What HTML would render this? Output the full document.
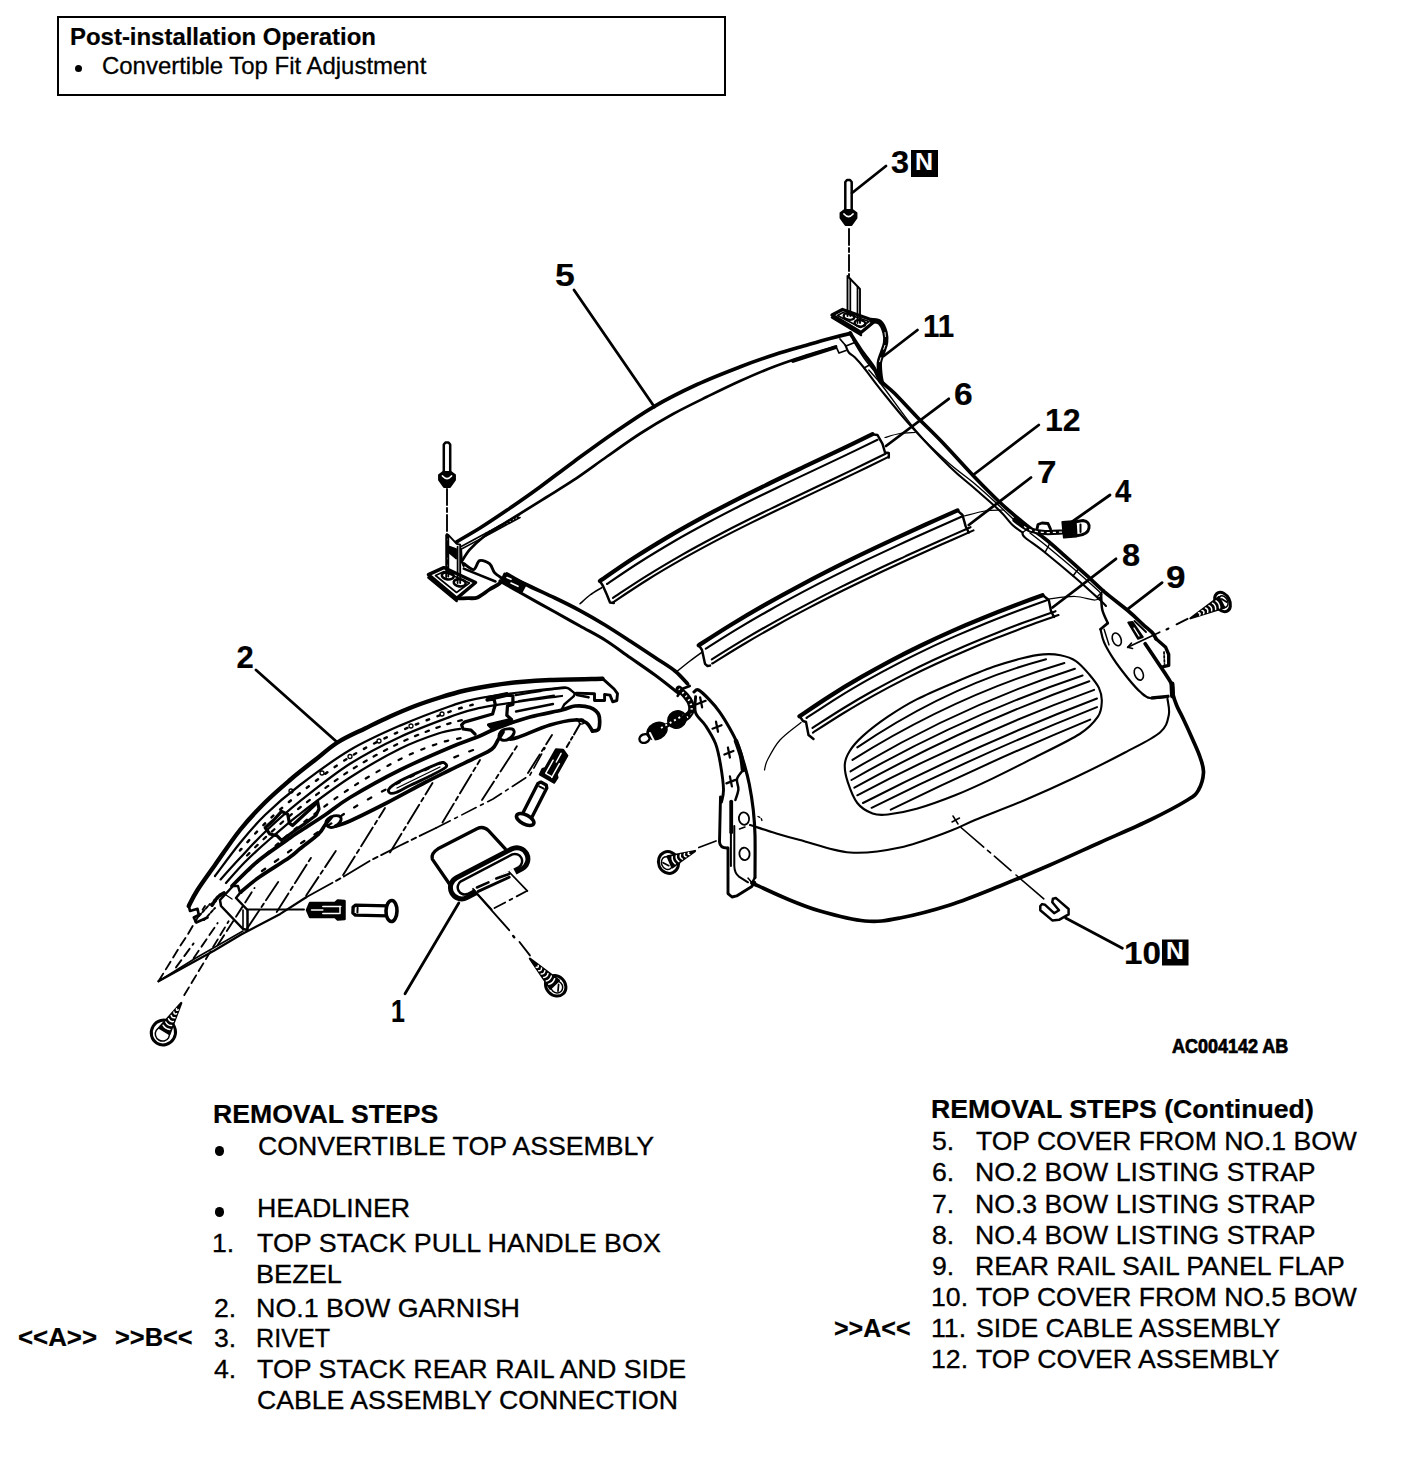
<!DOCTYPE html>
<html><head><meta charset="utf-8"><title>Convertible Top</title>
<style>
html,body{margin:0;padding:0;background:#fff;}
body{width:1408px;height:1470px;position:relative;overflow:hidden;font-family:"Liberation Sans",sans-serif;color:#000;}
.t{position:absolute;white-space:pre;line-height:1.2;transform-origin:0 50%;color:#000;-webkit-text-stroke:0.3px #000;}
.b{font-weight:bold;-webkit-text-stroke:0.2px #000;}
.box{position:absolute;left:57px;top:16.4px;width:665px;height:75.7px;border:2px solid #000;border-bottom-width:2.4px;box-sizing:content-box;}
.dot{position:absolute;background:#000;border-radius:50%;}
svg{position:absolute;left:0;top:0;}
</style></head><body>
<div class="box"></div>
<div class="dot" style="left:75px;top:65px;width:7px;height:7px"></div>
<div class="dot" style="left:214.5px;top:1146px;width:9.5px;height:9.5px"></div>
<div class="dot" style="left:214.5px;top:1207px;width:9.5px;height:9.5px"></div>
<svg width="1408" height="1470" viewBox="0 0 1408 1470" fill="none" stroke="#000" stroke-linecap="round" stroke-linejoin="round">
<path d="M852 193L886 166" stroke-width="2.8"/>
<path d="M574 290L654.5 407" stroke-width="2.8"/>
<path d="M917.5 330L883.8 356" stroke-width="2.8"/>
<path d="M948.8 398.8L886 446" stroke-width="2.8"/>
<path d="M1038.8 425L973.8 474.5" stroke-width="2.8"/>
<path d="M1031 477.5L968.8 525" stroke-width="2.8"/>
<path d="M1110 495L1067.5 525" stroke-width="2.8"/>
<path d="M1116 558.8L1052.5 607.5" stroke-width="2.8"/>
<path d="M1162.1 582.7L1127.7 609.2" stroke-width="2.8"/>
<path d="M1065.6 918L1122.4 948.2" stroke-width="2.8"/>
<path d="M256 670L337.5 742.5" stroke-width="2.8"/>
<path d="M458.8 903L405 993.8" stroke-width="2.8"/>
<rect x="911" y="150" width="27" height="27" fill="#000" stroke="none"/>
<rect x="1162" y="939.5" width="26.5" height="26" fill="#000" stroke="none"/>
<path d="M845.3 211L845.3 182L847 180L850 180L851.7 182L851.7 211" stroke-width="2.5"/>
<path d="M840.5 213L844.5 210L852.5 210L856.5 213L856.5 218L851.5 225L845.5 225L840.5 218Z" stroke-width="1.88" fill="#000"/>
<path d="M844.0 214Q848.5 219 853.0 214" stroke-width="1.75" stroke="#fff"/>
<path d="M849 229L849 276" stroke-width="1.88" stroke-dasharray="16 3 4 3"/>
<path d="M443.8 473L443.8 444.5L445.5 442.5L448.5 442.5L450.2 444.5L450.2 473" stroke-width="2.5"/>
<path d="M439 475L443 472L451 472L455 475L455 480L450 487L444 487L439 480Z" stroke-width="1.88" fill="#000"/>
<path d="M442.5 476Q447 481 451.5 476" stroke-width="1.75" stroke="#fff"/>
<path d="M447 489L447 573" stroke-width="1.88" stroke-dasharray="16 3 4 3"/>
<path d="M832 315L842.5 309.5L875 321L861 332.5Z" stroke-width="3.36" fill="#fff"/>
<path d="M832 317.5L861 335" stroke-width="2.5"/>
<path d="M837.5 315.5L843 312.5L869 321.5L860.5 327.5Z" stroke-width="1.62"/>
<ellipse cx="849" cy="316.5" rx="5.4" ry="3.2" stroke-width="2.4" transform="rotate(10 849 316.5)"/>
<ellipse cx="860" cy="323.3" rx="5.4" ry="3.2" stroke-width="2.4" transform="rotate(10 860 323.3)"/>
<path d="M847.5 316L847.5 276L860 289L860 323" stroke-width="1.88"/>
<path d="M850.3 316L850.3 279" stroke-width="1.75"/>
<path d="M857.5 323L857.5 287" stroke-width="1.75"/>
<path d="M872 320.5C873.3 320.8 877.8 320.5 880 322.5C882.2 324.5 884.1 329.2 885 332.5C885.9 335.8 886 339.2 885.6 342.5C885.2 345.8 883.5 349.2 882.5 352.5C881.5 355.8 879.8 358.8 879.4 362.5C879 366.2 879.7 371.9 880 375C880.3 378.1 880.8 380 881 381" stroke-width="5.38"/>
<path d="M885 332.5C885.1 334.2 886 339.2 885.6 342.5C885.2 345.8 883.5 349.2 882.5 352.5C881.5 355.8 879.9 360.8 879.4 362.5" stroke-width="1.0" stroke-dasharray="4 9" stroke="#fff"/>
<path d="M428.4 574.6L443.8 567.6L475.6 582.5L456.7 598.4Z" stroke-width="3.36" fill="#fff"/>
<path d="M428.4 577.5L456.7 601" stroke-width="2.5"/>
<path d="M435.5 575.5L444 571.5L469.5 583L456.5 592.5Z" stroke-width="1.62"/>
<ellipse cx="447.8" cy="575.8" rx="6" ry="3.6" stroke-width="2.6" transform="rotate(8 447.8 575.8)"/>
<ellipse cx="459.7" cy="582.8" rx="6" ry="3.6" stroke-width="2.6" transform="rotate(8 459.7 582.8)"/>
<path d="M448.3 576.6L448.3 534.8L456.7 543.8L460.2 544.7L460.2 583" stroke-width="1.88"/>
<path d="M446.2 577L446.2 535" stroke-width="1.88"/>
<path d="M457.6 583L457.6 546.7" stroke-width="1.75"/>
<path d="M449.3 546.5L456.2 549L456.2 558.7L449.3 553Z" stroke-width="1.5" fill="#000"/>
<path d="M456.7 598.4C458.6 598.4 464.5 598.4 468 598.2C471.5 598 474 598.9 477.6 597.4C481.2 595.9 485.9 591.8 489.5 589.5C493.1 587.2 497.2 585.3 499.5 583.5C501.8 581.7 502.8 579.4 503.5 578.6" stroke-width="3.81"/>
<path d="M463.7 563.6C465.4 564.6 471 570.1 473.6 569.6C476.2 569.1 477 561.7 479.6 560.7C482.2 559.7 487 561.6 489.5 563.6C492 565.6 492.3 570.1 494.5 572.6C496.7 575.1 501.2 577.6 502.5 578.6" stroke-width="2.91"/>
<path d="M463.7 568.6L495.5 581.5" stroke-width="2.46"/>
<path d="M461 550L461.7 561.6L463.7 566" stroke-width="2.25"/>
<path d="M456.7 541.8C460.6 539.5 471.6 533.2 480 528C488.4 522.8 496.8 517.1 506.8 510.3C516.8 503.5 528.9 495.1 540 487C551.1 478.9 561.3 470.8 573.5 461.9C585.7 453 599.6 442.7 613 433.5C626.4 424.3 639.6 415 653.6 406.8C667.6 398.6 682.5 391.2 697 384.5C711.5 377.8 727.4 371.7 740.4 366.7C753.4 361.7 763.9 358.1 775 354.5C786.1 350.9 798 347.7 807.2 345C816.4 342.3 822.8 340.4 830 338.5C837.2 336.6 847.2 334.2 850.6 333.4" stroke-width="3.7"/>
<path d="M461.7 561.6C463 559.6 466.1 553.8 469.7 549.7C473.3 545.6 478.3 541 483.4 537C488.4 533 493.9 529.9 500 526C506.1 522.1 512.4 518.4 520.1 513.6C527.8 508.9 537.1 503.1 546 497.5C554.9 491.9 563.3 487 573.5 480.2C583.7 473.4 595.9 464.3 607 456.5C618.1 448.7 629.3 440.6 640.3 433.5C651.3 426.4 661.9 420.1 673 414C684.1 407.9 695.8 402.3 707 396.8C718.2 391.3 728.9 386 740 381C751.1 376 762.8 370.9 773.8 366.7C784.8 362.4 795.6 358.9 806 355.5C816.4 352.1 831 348 836 346.5" stroke-width="2.69"/>
<path d="M460.7 546.7C465.6 544.1 480.2 536.3 490 531C499.8 525.7 514.5 517.6 519.4 514.9" stroke-width="1.62"/>
<path d="M461.5 549C466.2 546.5 480.2 539 490 533.8C499.8 528.5 515 520.2 520 517.5" stroke-width="1.62"/>
<path d="M486 534L519.5 516" stroke-width="2.91" stroke-dasharray="2 1.5" stroke-linecap="butt"/>
<path d="M793 361L835 347.5" stroke-width="3.81"/>
<path d="M850 333L856 342L846 346L840 339" stroke-width="1.75"/>
<path d="M836 346.5L839 353L846 350.5" stroke-width="1.75"/>
<path d="M850 333C851.8 335.8 857 344.2 861 350C865 355.8 870.6 362.5 873.8 367.5C876.9 372.5 876.5 375.6 880 380C883.5 384.4 888.8 387.5 895 393.8C901.2 400 909.6 409.4 917.5 417.5C925.4 425.6 932.9 432.5 942.5 442.5C952.1 452.5 965.4 467.5 975 477.5C984.6 487.5 992.5 495.4 1000 502.5C1007.5 509.6 1015 515.8 1020 520C1025 524.2 1025.8 524.9 1030 528C1034.2 531.1 1039.6 534.5 1045 538.8C1050.4 543 1055.4 547.5 1062.5 553.8C1069.6 560 1080.6 569.9 1087.5 576.2C1094.4 582.6 1097.3 585.9 1104.1 591.7C1110.9 597.5 1121.8 605.6 1128.3 611C1134.8 616.4 1138.8 620.7 1142.8 624.3C1146.8 627.9 1150.2 630.4 1152.4 632.8C1154.6 635.2 1155.4 637.8 1156 638.8" stroke-width="3.7"/>
<path d="M1145.2 643.7C1147.2 646.7 1154.1 657 1157.3 661.8C1160.5 666.6 1162.1 668.8 1164.5 672.6C1166.9 676.4 1170.4 681.1 1171.8 684.7C1173.2 688.3 1172.2 691 1173 694.4C1173.8 697.8 1174.8 700.9 1176.6 705.2C1178.4 709.5 1181.2 714.5 1183.8 720C1186.4 725.5 1189.3 731.8 1192 738C1194.7 744.2 1198.1 751.2 1200 757C1201.9 762.8 1203.8 767 1203.5 772.5C1203.2 778 1201.2 785.4 1198.5 790C1195.8 794.6 1195.6 795 1187.5 800C1179.4 805 1164.6 812.9 1150 820C1135.4 827.1 1116.7 835 1100 842.5C1083.3 850 1066.7 857.8 1050 865C1033.3 872.2 1016.7 879.3 1000 886C983.3 892.7 966.7 899.7 950 905C933.3 910.3 914.2 915.3 900 918C885.8 920.7 878.3 922.2 865 921C851.7 919.8 833.3 914.8 820 911C806.7 907.2 796.3 902.7 785 898C773.7 893.3 757.5 885.5 752 883" stroke-width="3.7"/>
<path d="M853 340C854.8 343 860.2 352.5 864 358C867.8 363.5 874 370.5 876 373" stroke-width="1.5"/>
<path d="M845.6 345.6C846.1 346.8 847.2 350.5 848.8 352.5C850.3 354.5 852.5 355 855 357.5C857.5 360 859.6 362.3 863.8 367.5C867.9 372.7 872.3 379.2 880 388.8C887.7 398.3 898.3 412 910 425C921.7 438 939.2 456.4 950 467C960.8 477.6 966.7 481.4 975 488.8C983.3 496.1 993.8 505 1000 511C1006.2 517 1008.8 521.4 1012.5 525C1016.2 528.6 1020.8 531.2 1022.5 532.5" stroke-width="2.12"/>
<path d="M868.8 370C871 372.7 874.4 375.6 882.5 386C890.6 396.4 906.7 419.8 917.5 432.5C928.3 445.2 937.9 453.4 947.5 462C957.1 470.6 966.2 476.6 975 484C983.8 491.4 993.3 500.3 1000 506.5C1006.7 512.7 1012.5 518.6 1015 521" stroke-width="1.38"/>
<path d="M864 368L869.5 365" stroke-width="1.62"/>
<path d="M1022.5 532.5C1022.9 533.3 1021.2 534.2 1025 537.5C1028.8 540.8 1036.7 545.8 1045 552.5C1053.3 559.2 1065.8 569.6 1075 577.5C1084.2 585.4 1094.8 595.2 1100 600C1105.2 604.8 1105 605 1106 606" stroke-width="2.12"/>
<path d="M1030 533C1033.2 535.5 1041 541.4 1049 548C1057 554.6 1069.2 564.8 1078 572.5C1086.8 580.2 1098 590.4 1102 594" stroke-width="1.38"/>
<path d="M1022.5 532.5L1029 528" stroke-width="1.5"/>
<path d="M1045 552.5L1050 543" stroke-width="1.5"/>
<path d="M1073 576L1079 568" stroke-width="1.5"/>
<path d="M1097 597L1104 590" stroke-width="1.5"/>
<path d="M600 581C605.7 577.1 622.7 565.1 634.1 557.8C645.4 550.4 656.8 543.5 668.1 536.8C679.5 530.1 690.8 523.8 702.2 517.6C713.5 511.5 724.9 505.6 736.2 499.8C747.6 494 759 488.5 770.3 483C781.7 477.4 793 472.1 804.4 466.7C815.7 461.3 827.1 456 838.4 450.6C849.8 445.2 866.8 437 872.5 434.2" stroke-width="4.26"/>
<path d="M607 584C612.6 580.2 629.5 568.6 640.8 561.5C652.1 554.3 663.4 547.6 674.6 541C685.9 534.5 697.2 528.3 708.4 522.3C719.7 516.2 731 510.5 742.2 504.8C753.5 499.1 764.8 493.6 776.1 488.2C787.3 482.7 798.6 477.4 809.9 472.1C821.1 466.7 832.4 461.5 843.7 456.1C855 450.7 871.9 442.5 877.5 439.8" stroke-width="2.12"/>
<path d="M613 597.8C618.7 594.1 635.7 582.6 647.1 575.6C658.4 568.5 669.8 561.8 681.1 555.3C692.5 548.8 703.8 542.7 715.2 536.7C726.5 530.7 737.9 524.9 749.2 519.3C760.6 513.6 772 508.2 783.3 502.7C794.7 497.2 806 491.9 817.4 486.5C828.7 481.1 840.1 475.8 851.4 470.4C862.8 464.9 879.8 456.6 885.5 453.8" stroke-width="2.12"/>
<path d="M613.5 602C619.2 598.2 636.4 586.7 647.9 579.5C659.3 572.4 670.8 565.7 682.2 559.2C693.7 552.6 705.2 546.5 716.6 540.4C728.1 534.4 739.5 528.6 751 522.9C762.5 517.2 773.9 511.7 785.4 506.2C796.8 500.7 808.3 495.3 819.8 489.9C831.2 484.5 842.7 479.1 854.1 473.6C865.6 468.1 882.8 459.6 888.5 456.9" stroke-width="2.12"/>
<path d="M600 581.2L603 586L607 595L610 602.5L613.8 603" stroke-width="2.46"/>
<path d="M872.5 434.4L877.5 435L882.5 443.8L885 452.5L888.8 453L888.8 457.5" stroke-width="2.46"/>
<path d="M698.8 645.3C704.1 641.9 720.3 631.4 731.1 624.8C741.9 618.2 752.7 611.8 763.4 605.7C774.2 599.5 785 593.5 795.8 587.8C806.6 582 817.3 576.4 828.1 570.9C838.9 565.4 849.7 560.1 860.5 554.9C871.2 549.7 882 544.6 892.8 539.6C903.6 534.6 914.4 529.7 925.2 524.8C935.9 520 952.1 512.8 957.5 510.4" stroke-width="4.26"/>
<path d="M705.8 648.7C711.1 645.4 727.1 635.1 737.8 628.7C748.5 622.2 759.2 616 769.9 610C780.6 603.9 791.3 598.1 802 592.4C812.7 586.7 823.4 581.2 834.1 575.9C844.8 570.5 855.5 565.3 866.2 560.1C876.9 555 887.6 550 898.3 545.1C909 540.1 919.7 535.3 930.4 530.5C941.1 525.7 957.2 518.6 962.5 516.2" stroke-width="2.12"/>
<path d="M711.8 659.4C717.1 656 733.3 645.9 744.1 639.4C754.9 633 765.7 626.8 776.4 620.8C787.2 614.8 798 609 808.8 603.4C819.6 597.7 830.3 592.2 841.1 586.9C851.9 581.5 862.7 576.3 873.5 571.2C884.2 566 895 561.1 905.8 556.1C916.6 551.2 927.4 546.3 938.2 541.5C948.9 536.7 965.1 529.6 970.5 527.2" stroke-width="2.12"/>
<path d="M712.2 663.5C717.7 660.2 734 649.9 744.9 643.5C755.8 637 766.7 630.8 777.6 624.7C788.4 618.6 799.3 612.8 810.2 607.1C821.1 601.4 832 595.9 842.9 590.5C853.8 585.1 864.6 579.9 875.5 574.7C886.4 569.5 897.3 564.5 908.2 559.5C919.1 554.5 930 549.7 940.8 544.8C951.7 540 968.1 532.8 973.5 530.4" stroke-width="2.12"/>
<path d="M698.8 645L702 650L705 663.8L707.5 666L710 665.6" stroke-width="2.46"/>
<path d="M957.5 510.6L962.5 515L965.6 526.2L968.8 532.5" stroke-width="2.46"/>
<path d="M799.5 716.3C804.6 712.9 819.8 702.5 829.9 696.1C840 689.6 850.1 683.5 860.2 677.7C870.4 671.8 880.5 666.2 890.6 660.8C900.8 655.5 910.9 650.4 921 645.5C931.1 640.6 941.2 635.9 951.4 631.4C961.5 626.9 971.6 622.6 981.8 618.5C991.9 614.3 1002 610.3 1012.1 606.5C1022.2 602.6 1037.4 597.1 1042.5 595.3" stroke-width="4.26"/>
<path d="M806.5 718C811.5 714.7 826.6 704.6 836.6 698.3C846.7 692.1 856.7 686.1 866.8 680.4C876.8 674.7 886.8 669.3 896.9 664.1C906.9 658.8 917 653.9 927 649.1C937 644.3 947.1 639.8 957.1 635.4C967.2 631 977.2 626.8 987.2 622.7C997.3 618.7 1007.3 614.8 1017.4 611C1027.4 607.2 1042.5 601.8 1047.5 600" stroke-width="2.12"/>
<path d="M812.5 727.9C817.6 724.7 832.8 714.7 842.9 708.5C853 702.3 863.1 696.4 873.2 690.8C883.4 685.1 893.5 679.8 903.6 674.6C913.8 669.4 923.9 664.5 934 659.8C944.1 655.1 954.2 650.6 964.4 646.2C974.5 641.9 984.6 637.7 994.8 633.7C1004.9 629.7 1015 625.8 1025.1 622.1C1035.2 618.3 1050.4 613 1055.5 611.2" stroke-width="2.12"/>
<path d="M813 732.6C818.1 729.3 833.5 719.2 843.7 713C853.9 706.8 864.1 700.8 874.4 695.1C884.6 689.5 894.8 684.1 905.1 678.9C915.3 673.7 925.5 668.7 935.8 664C946 659.2 956.2 654.7 966.4 650.4C976.7 646 986.9 641.8 997.1 637.8C1007.4 633.7 1017.6 629.9 1027.8 626.1C1038 622.3 1053.4 617 1058.5 615.1" stroke-width="2.12"/>
<path d="M799.5 716L803 721L806 722L808.5 735L813.5 739" stroke-width="2.46"/>
<path d="M1042.5 595L1048.8 600L1051 611L1054 617" stroke-width="2.46"/>
<path d="M885 437.5C887.5 436.8 895 434.3 900 433.5C905 432.7 912.5 432.7 915 432.5" stroke-width="1.25"/>
<path d="M964 516C967.5 515.2 978.5 512 985 511C991.5 510 1000 510.2 1003 510" stroke-width="1.25"/>
<path d="M1048 599C1052.5 598.6 1067.2 596.3 1075 596.5C1082.8 596.7 1090.7 600.1 1095 600C1099.3 599.9 1100 596.7 1101 596" stroke-width="1.25"/>
<path d="M601.9 587.5C599.9 588.8 593.6 592.3 590 595C586.4 597.7 581.7 602.3 580 603.8" stroke-width="1.5"/>
<path d="M702.5 651.9C700.4 653.4 694.2 657.8 690 661C685.8 664.2 679.6 669.3 677.5 671" stroke-width="1.5"/>
<path d="M801 722.5C797.5 725.4 785.6 733.8 780 740C774.4 746.2 770.1 755 767.5 760C764.9 765 765 768.3 764.5 770" stroke-width="1.25"/>
<path d="M1015 520C1016.5 521.1 1021.2 524.8 1024 526.5C1026.8 528.2 1028.5 529.5 1032 530.5C1035.5 531.5 1039.9 532.2 1045 532.5C1050.1 532.8 1059.6 532.1 1062.5 532" stroke-width="5.15"/>
<path d="M1024 526.5C1025.3 527.2 1028.5 529.5 1032 530.5C1035.5 531.5 1039.9 532.2 1045 532.5C1050.1 532.8 1059.6 532.1 1062.5 532" stroke-width="1.25" stroke-dasharray="3 3" stroke="#fff" stroke-linecap="butt"/>
<path d="M1037 529L1038 524.5L1042 523L1048 523.5L1050.5 529" stroke-width="2.91"/>
<path d="M1062.5 522L1075.5 521L1076.5 536.5L1064 537.5Z" stroke-width="2.25" fill="#000"/>
<path d="M1077 521.5L1083 520.5Q1090 521.5 1089 528Q1088 534.5 1078 535.5" stroke-width="2.91"/>
<path d="M1080.5 524.5L1080.5 532" stroke-width="2.0"/>
<path d="M1101.1 594.1C1101.3 596.7 1101.2 605 1102.3 609.8C1103.4 614.6 1106.9 620.9 1107.8 623.1" stroke-width="2.5"/>
<path d="M1107.8 623.1L1100.5 629.2" stroke-width="2.69"/>
<path d="M1100.5 629.2C1101.1 631.4 1101.9 637.4 1104.1 642.4C1106.3 647.4 1109.8 653.3 1113.8 659.4C1117.8 665.5 1123.9 673.3 1128.3 678.7C1132.7 684.1 1136.8 688.8 1140.4 692C1144 695.2 1145.6 697.2 1150 698C1154.4 698.8 1164.1 697 1166.9 696.8" stroke-width="2.25"/>
<path d="M1104.1 629.2 L1109 644.9" stroke-width="1.5"/>
<path d="M1152 697.8L1168 696.3" stroke-width="3.36"/>
<path d="M1172 684L1172.5 696" stroke-width="5.04"/>
<ellipse cx="1116.8" cy="639.4" rx="4.2" ry="6.6" stroke-width="1.6" transform="rotate(-22 1116.8 639.4)"/>
<ellipse cx="1138.8" cy="673.8" rx="4.2" ry="6.6" stroke-width="1.6" transform="rotate(-22 1138.8 673.8)"/>
<path d="M1128.3 622.5L1132.5 622L1142.8 637L1138 638.8Z" stroke-width="2.0" fill="#000"/>
<path d="M1134 628L1139 636" stroke-width="1.38" stroke="#fff"/>
<path d="M1134.5 621L1146 632" stroke-width="1.88"/>
<path d="M1156 638.8L1165.7 647.3L1168.7 654.5L1168.7 665.4L1163.3 666.6" stroke-width="3.36"/>
<path d="M1164 652L1164.5 664" stroke-width="1.75" stroke-dasharray="2 2"/>
<path d="M1159.7 632.2L1127.7 647.3" stroke-width="1.75"/>
<path d="M1131.5 643L1127.7 647.3L1132.5 648.5" stroke-width="1.62"/>
<path d="M1166.5 629.5L1168.5 628.5" stroke-width="2.0"/>
<path d="M1176.6 624.3L1187.5 618.9" stroke-width="2.0"/>
<ellipse cx="1222.5" cy="602" rx="7.2" ry="10.3" stroke-width="3.0" fill="#fff" transform="rotate(153.00684386701877 1222.5 602)"/>
<ellipse cx="1223.5" cy="601.5" rx="4" ry="6.2" stroke-width="1.5" transform="rotate(153.00684386701877 1223.5 601.5)"/>
<path d="M1226.6 602.1L1221.8 599" stroke-width="1.75"/>
<path d="M1218.8 597.1L1190.5 618.3L1224.3 607.8Z" stroke-width="2.25" fill="#000"/>
<path d="M1216 600.8Q1219.8 603.4 1219.6 608" stroke="#fff" stroke-width="1.5"/>
<path d="M1212.5 603.2Q1216 605.3 1215.6 609.4" stroke="#fff" stroke-width="1.5"/>
<path d="M1209 605.6Q1212.3 607.2 1211.6 610.8" stroke="#fff" stroke-width="1.5"/>
<path d="M1205.5 608Q1208.5 609.1 1207.6 612.2" stroke="#fff" stroke-width="1.5"/>
<path d="M1202 610.4Q1204.8 611 1203.6 613.6" stroke="#fff" stroke-width="1.5"/>
<path d="M1198.5 612.8Q1201 612.9 1199.7 615.1" stroke="#fff" stroke-width="1.5"/>
<ellipse cx="668.5" cy="862.5" rx="10" ry="11" stroke-width="3.0" fill="#fff" transform="rotate(-23.45902408146156 668.5 862.5)"/>
<ellipse cx="667.1" cy="863.1" rx="5.5" ry="6.6" stroke-width="1.5" transform="rotate(-23.45902408146156 667.1 863.1)"/>
<path d="M663.1 862.7L668.8 865.7" stroke-width="1.75"/>
<path d="M672.3 867.4L695 851L667.5 856.4Z" stroke-width="2.25" fill="#000"/>
<path d="M675.3 863.8Q671.7 861.1 672.2 856.7" stroke="#fff" stroke-width="1.5"/>
<path d="M678.8 861.5Q675.6 859.4 676.3 855.7" stroke="#fff" stroke-width="1.5"/>
<path d="M682.4 859.1Q679.4 857.8 680.5 854.6" stroke="#fff" stroke-width="1.5"/>
<path d="M686 856.8Q683.3 856.1 684.6 853.6" stroke="#fff" stroke-width="1.5"/>
<path d="M689.6 854.5Q687.1 854.4 688.7 852.6" stroke="#fff" stroke-width="1.5"/>
<ellipse cx="163.4" cy="1032.5" rx="12.5" ry="12" stroke-width="3.0" fill="#fff" transform="rotate(-58.822507405730605 163.4 1032.5)"/>
<ellipse cx="162.4" cy="1034.1" rx="6.9" ry="7.2" stroke-width="1.5" transform="rotate(-58.822507405730605 162.4 1034.1)"/>
<path d="M169.5 1034L181.2 1003L159.2 1027.8Z" stroke-width="2.25" fill="#000"/>
<path d="M169.9 1029.4Q165.4 1029.2 163.1 1025.2" stroke="#fff" stroke-width="1.5"/>
<path d="M171.6 1025.5Q167.6 1025.6 165.8 1022" stroke="#fff" stroke-width="1.5"/>
<path d="M173.3 1021.6Q169.8 1022 168.5 1018.7" stroke="#fff" stroke-width="1.5"/>
<path d="M175 1017.7Q171.9 1018.4 171.2 1015.4" stroke="#fff" stroke-width="1.5"/>
<path d="M176.6 1013.8Q174.1 1014.8 173.9 1012.1" stroke="#fff" stroke-width="1.5"/>
<path d="M178.3 1009.9Q176.3 1011.2 176.5 1008.8" stroke="#fff" stroke-width="1.5"/>
<ellipse cx="555.7" cy="985.8" rx="11" ry="9.5" stroke-width="3.0" fill="#fff" transform="rotate(-133.48687844393183 555.7 985.8)"/>
<ellipse cx="556.8" cy="987" rx="6.1" ry="5.7" stroke-width="1.5" transform="rotate(-133.48687844393183 556.8 987)"/>
<path d="M558 991.2L558.6 984.5" stroke-width="1.75"/>
<path d="M558.9 980.5L529.9 958.6L550.2 988.7Z" stroke-width="2.25" fill="#000"/>
<path d="M554.6 978.8Q553.2 983.2 548.8 984.3" stroke="#fff" stroke-width="1.5"/>
<path d="M551.3 976.1Q550.3 980.1 546.3 980.9" stroke="#fff" stroke-width="1.5"/>
<path d="M548 973.4Q547.4 977.1 543.7 977.5" stroke="#fff" stroke-width="1.5"/>
<path d="M544.8 970.7Q544.5 974 541.2 974.1" stroke="#fff" stroke-width="1.5"/>
<path d="M541.5 968.1Q541.6 971 538.7 970.7" stroke="#fff" stroke-width="1.5"/>
<path d="M538.2 965.4Q538.7 967.9 536.2 967.3" stroke="#fff" stroke-width="1.5"/>
<path d="M698.8 847.5L716 841" stroke-width="1.75"/>
<path d="M507 574C510 575.7 517 580 525 584C533 588 545.8 593.6 555 598C564.2 602.4 571.7 606.1 580 610.6C588.3 615.1 596.7 619.9 605 625C613.3 630.1 621.7 635.6 630 641C638.3 646.4 647.5 652.5 655 657.5C662.5 662.5 669.6 666.6 675 671C680.4 675.4 685.4 681.6 687.5 683.8" stroke-width="3.7"/>
<path d="M500 581C503.3 582.9 510.8 587.3 520 592.5C529.2 597.7 545 606.4 555 612C565 617.6 571.7 621.3 580 626C588.3 630.7 596.7 634.8 605 640C613.3 645.2 621.7 651.7 630 657.5C638.3 663.3 647.1 669.2 655 675C662.9 680.8 673.8 689.6 677.5 692.5" stroke-width="3.14"/>
<path d="M504.5 573.5L526 584L522 591.5L501 581Z" stroke-width="2.0" fill="#000"/>
<path d="M524 584L520 593" stroke-width="1.75"/>
<path d="M507 577.5 L511 579.2" stroke-width="1.62" stroke="#fff"/>
<path d="M511 583 L518 586.3" stroke-width="1.62" stroke="#fff"/>
<path d="M679 689C680.2 690.2 684.1 693.7 686 696C687.9 698.3 689.6 700.7 690.5 703C691.4 705.3 691.9 707.8 691.5 710C691.1 712.2 689.6 714.3 688 716C686.4 717.7 683 719.3 682 720" stroke-width="6.72"/>
<path d="M679 689C680.2 690.2 684.1 693.7 686 696C687.9 698.3 689.6 700.7 690.5 703C691.4 705.3 691.9 707.8 691.5 710C691.1 712.2 689.6 714.3 688 716C686.4 717.7 683 719.3 682 720" stroke-width="2.25" stroke-dasharray="1.5 3.2" stroke="#fff" stroke-linecap="butt"/>
<path d="M677.7 695.9L682 689L689.7 686" stroke-width="2.69"/>
<ellipse cx="644.5" cy="738.5" rx="5.2" ry="4.2" stroke-width="2.4" transform="rotate(-25 644.5 738.5)"/>
<ellipse cx="657" cy="731" rx="10.5" ry="8" stroke-width="1.5" fill="#000" transform="rotate(-28 657 731)"/>
<ellipse cx="677" cy="719.5" rx="9.5" ry="8.5" stroke-width="1.5" fill="#000" transform="rotate(-30 677 719.5)"/>
<path d="M664 727L671 723" stroke-width="4.48"/>
<path d="M650 733L654 741" stroke-width="2.0" stroke="#fff"/>
<path d="M661 728L684 715" stroke-width="1.88" stroke-dasharray="2 3" stroke="#fff" stroke-linecap="butt"/>
<path d="M684 716L690 712" stroke-width="3.36"/>
<path d="M694 692C694.8 691.7 696 688.7 698.6 690C701.2 691.3 706 696.2 709.5 699.8C713 703.4 716.2 707.1 719.5 711.8C722.8 716.4 726.4 722.4 729.4 727.7C732.4 733 734.9 737.5 737.4 743.6C739.9 749.7 742.3 757.7 744.3 764.5C746.3 771.3 747.8 776.7 749.3 784.3C750.8 791.9 752.3 801.5 753.3 810C754.2 818.5 754.7 823.8 755 835C755.3 846.2 755 870.4 755 877.5" stroke-width="3.14"/>
<path d="M695.6 696.8C695.6 699.5 693.9 708 695.6 712.8C697.3 717.6 702.3 720.6 705.6 725.7C708.9 730.8 713 737.1 715.5 743.6C718 750.1 719.2 756.9 720.5 764.5C721.8 772.1 723.3 783 723.5 789.3C723.7 795.5 721.8 799.9 721.5 802" stroke-width="2.91"/>
<path d="M736 741C736.8 743.5 739.8 751.2 741 756C742.2 760.8 742.7 767.7 743 770" stroke-width="4.48"/>
<path d="M743 770C742 771.5 737.8 775.8 737 779C736.2 782.2 738.7 785.8 738.4 789.3C738.1 792.8 735.9 798.2 735.4 800" stroke-width="2.5"/>
<path d="M700.1 697.3L702.1 707.3" stroke-width="2.25"/>
<path d="M705.6 700.8L696.6 704.3" stroke-width="2.25"/>
<path d="M716 721.7L718 731.7" stroke-width="2.25"/>
<path d="M721.5 725.2L712.5 728.7" stroke-width="2.25"/>
<path d="M727.9 747.5L729.9 757.5" stroke-width="2.25"/>
<path d="M733.4 751L724.4 754.5" stroke-width="2.25"/>
<path d="M729.9 776.4L731.9 786.4" stroke-width="2.25"/>
<path d="M735.4 779.9L726.4 783.4" stroke-width="2.25"/>
<path d="M720.5 797L719.5 842Q720 848 727 848" stroke-width="2.91"/>
<path d="M728 848L728 893.6L732 897L736.6 895.9L751.4 886.8L754.8 882.3" stroke-width="2.91"/>
<path d="M731.2 801.6L731.2 832.3" stroke-width="3.81"/>
<path d="M730.9 832L730.9 866" stroke-width="2.0"/>
<path d="M734.3 826L734.3 866Q734.5 873 738.9 876.6L748 882.3" stroke-width="2.0"/>
<path d="M748 878L753 884" stroke-width="1.5"/>
<ellipse cx="744" cy="818.6" rx="5.1" ry="6.2" stroke-width="1.8" transform="rotate(-8 744 818.6)"/>
<ellipse cx="744.5" cy="853.9" rx="5.1" ry="6.2" stroke-width="1.8" transform="rotate(-8 744.5 853.9)"/>
<path d="M739.5 829L745 827" stroke-width="1.5"/>
<path d="M758 816.5L761 818L762.5 822" stroke-width="1.38" stroke-dasharray="2 2"/>
<path d="M750 825C754.2 826.3 766.7 830.5 775 833C783.3 835.5 787.5 836.8 800 840C812.5 843.2 833.3 851.2 850 852.5C866.7 853.8 883.3 851.1 900 847.5C916.7 843.9 937.5 835.6 950 831C962.5 826.4 962.5 825.2 975 820C987.5 814.8 1008.3 807.1 1025 800C1041.7 792.9 1058.3 785.4 1075 777.5C1091.7 769.6 1110.8 760 1125 752.5C1139.2 745 1152.7 738.8 1160 732.5C1167.3 726.2 1167.5 720.6 1168.8 715C1170 709.4 1167.7 701.5 1167.5 698.8" stroke-width="2.12"/>
<path d="M752 883L755 877.5" stroke-width="2.5"/>
<path d="M953 816L958 824" stroke-width="1.5"/>
<path d="M952 822L959.5 818" stroke-width="1.5"/>
<path d="M961 827.5L1043.8 898.8" stroke-width="1.62" stroke-dasharray="30 5 4 5 22 200"/>
<path d="M1016 875L1043.8 898.8" stroke-width="1.62"/>
<path d="M1040.3 906L1042.1 904.1L1045.1 904.8L1054.1 913.2L1059 910.2L1052.3 902.3L1052.9 898.7L1056 898.1L1068.6 909L1068.6 914.4L1059 919.8L1052.3 920.4L1040.3 910.2Z" stroke-width="2.5" fill="#fff"/>
<path d="M1043.3 654.4C1049.7 653.9 1055.1 654.2 1060.5 655.3C1065.9 656.4 1071.1 657.9 1075.9 661.1C1080.7 664.3 1085.5 670 1089.3 674.5C1093.1 679 1096.8 683.4 1098.9 687.9C1101 692.4 1102 696.6 1101.8 701.4C1101.6 706.2 1101.6 711.3 1097.9 716.7C1094.2 722.1 1090.7 727 1079.7 734C1068.7 741 1046.2 751.5 1031.8 758.9C1017.4 766.2 1006.2 772 993.4 778.1C980.6 784.2 967.9 790.2 955.1 795.3C942.3 800.4 927.9 805.6 916.7 808.8C905.5 812 895.2 813.7 887.9 814.5C880.5 815.3 877.7 815.4 872.6 813.5C867.5 811.6 861.4 808.3 857.3 803C853.1 797.7 849.8 788.3 847.7 781.9C845.6 775.5 844.5 769.7 844.8 764.6C845.1 759.5 846.6 756 849.6 751.2C852.6 746.4 856.6 741.6 863 735.9C869.4 730.1 878.9 722.8 887.9 716.7C896.9 710.6 905.5 705.1 916.7 699.4C927.9 693.6 942.3 687.6 955.1 682.2C967.9 676.8 982.2 670.8 993.4 666.8C1004.6 662.8 1013.9 660.3 1022.2 658.2C1030.5 656.1 1036.9 654.9 1043.3 654.4Z" stroke-width="2.12"/>
<path d="M857.3 747.4Q948.5 685.3 1046.1 659.2" stroke-width="2.0"/>
<path d="M852.5 759.9Q955.6 695.2 1064.4 663" stroke-width="2.0"/>
<path d="M850.5 771.4Q960.2 705.7 1074.9 668.8" stroke-width="2.0"/>
<path d="M851.5 780Q964.8 715.1 1082.6 675.5" stroke-width="2.0"/>
<path d="M854.4 787.7Q970 723.7 1089.3 681.2" stroke-width="2.0"/>
<path d="M857.3 795.3Q974.1 733.6 1094.1 689.9" stroke-width="2.0"/>
<path d="M863 803Q978.7 743.5 1097 698.5" stroke-width="2.0"/>
<path d="M871.6 807.8Q983.4 752.1 1097 707.1" stroke-width="2.0"/>
<path d="M890.8 809.7Q989.9 761.1 1090.2 719.6" stroke-width="2.0"/>
<path d="M188.8 906C190.2 903.3 193.1 896.8 197.5 890C201.9 883.2 207.9 875 215 865C222.1 855 231.7 840.4 240 830C248.3 819.6 256.7 810.8 265 802.5C273.3 794.2 281.7 787.1 290 780C298.3 772.9 307.1 766.2 315 760C322.9 753.8 329.2 747.8 337.5 742.5C345.8 737.2 356.2 732.8 365 728.5C373.8 724.2 381.7 720.2 390 716.5C398.3 712.8 406.7 709.2 415 706C423.3 702.8 431.7 700.1 440 697.5C448.3 694.9 456.3 692.5 465 690.5C473.7 688.5 482.8 686.9 492 685.5C501.2 684.1 510.3 682.9 520 682C529.7 681.1 536.2 680.5 550 680C563.8 679.5 593.8 679 602.5 678.8" stroke-width="4.37"/>
<path d="M602 678.2L607.3 682.9L614.1 689L617.5 693.7L616.8 700.5L612.7 701.8L610 695.1L604.6 694.4L604.6 700.5L594.5 700.5L594.5 693.7L576.3 693.1" stroke-width="2.91"/>
<path d="M577 695L588.5 697.3" stroke-width="2.69"/>
<path d="M188.8 906L190 911L197.5 908.8L198.8 915L193.8 917.5L196.2 922.5L207.5 917.5" stroke-width="2.69"/>
<path d="M215 876C219.2 870.5 231.7 853.2 240 843C248.3 832.8 255 824.7 265 815C275 805.3 285.8 795.8 300 785C314.2 774.2 333.3 759.9 350 750C366.7 740.1 383.3 732.9 400 725.6C416.7 718.3 437.3 710.7 450 706.2C462.7 701.8 462.7 701.3 476 698.8C489.3 696.2 515.2 692.8 530 691C544.8 689.2 559.2 688.5 565 688" stroke-width="2.25"/>
<path d="M220.6 879.4C223.8 875.8 232.6 865.9 240 858C247.4 850.1 255 841.5 265 832C275 822.5 285.8 812.6 300 801.2C314.2 789.9 333.3 774.5 350 763.8C366.7 753 383.3 744.7 400 736.9C416.7 729.1 437.3 721.6 450 716.9C462.7 712.2 462.7 711.6 476 708.8C489.3 705.9 515.7 702.1 530 700C544.3 697.9 556.7 696.7 562 696" stroke-width="2.25"/>
<path d="M226 883C229.2 879.5 237.7 869.3 245 862C252.3 854.7 260.8 847 270 839C279.2 831 286.7 824 300 813.8C313.3 803.5 333.3 788.3 350 777.5C366.7 766.7 385.4 756 400 748.8C414.6 741.5 427.5 737.1 437.5 733.8C447.5 730.4 456.2 729.6 460 728.8" stroke-width="2.25"/>
<path d="M232 886C236.3 881.8 248.3 869 258 861C267.7 853 283 843 290 838C297 833 294.2 835.1 300 831.2C305.8 827.4 316.7 820.6 325 815C333.3 809.4 337.5 805 350 797.5C362.5 790 383.3 778.3 400 770C416.7 761.7 437.3 752.9 450 747.5C462.7 742.1 467.7 740.9 476 737.5C484.3 734.1 491 730.4 500 727C509 723.6 519.7 719.8 530 717C540.3 714.2 554.5 711.8 562 710C569.5 708.2 570.3 706.4 575 706C579.7 705.6 586 706 590 707.5C594 709 597.3 711.5 598.8 715C600.2 718.5 599.8 726.1 598.8 728.8C597.7 731.4 593.5 730.6 592.5 731" stroke-width="3.7"/>
<path d="M241 892C243.8 889.7 249.9 883.8 258 878C266.1 872.2 282.4 862.4 289.4 857.5C296.4 852.6 295.1 852.7 300 848.8C304.9 844.8 314.6 837.7 318.8 833.8C322.9 829.8 323 827.7 325 825C327 822.3 330 818.8 331 817.5" stroke-width="3.7"/>
<path d="M326 822C326.3 820.3 328.8 818 331 817C333.2 816 337.3 815.5 339 816C340.7 816.5 341.5 818.3 341 820C340.5 821.7 338 824.8 336 826C334 827.2 330.7 827.7 329 827C327.3 826.3 325.7 823.7 326 822Z" stroke-width="2.91"/>
<path d="M336 826C338.3 825.2 341.4 824.9 350 821C358.6 817.1 375 808.9 387.5 802.5C400 796.1 414.6 787.9 425 782.5C435.4 777.1 441.5 774.2 450 770C458.5 765.8 469 761 476 757.5C483 754 488.3 751.9 492 749C495.7 746.1 496.2 742.8 498 740C499.8 737.2 502.2 733.3 503 732" stroke-width="3.7"/>
<path d="M499 736C499.2 734.3 500.8 731.2 503 730C505.2 728.8 510.2 728.5 512 729C513.8 729.5 514.5 731.3 514 733C513.5 734.7 511 737.8 509 739C507 740.2 503.7 740.5 502 740C500.3 739.5 498.8 737.7 499 736Z" stroke-width="2.91"/>
<path d="M509 739C510.4 738.8 510.7 739.8 517.5 737.5C524.3 735.2 540.4 727.9 550 725C559.6 722.1 569 720.4 575 720C581 719.6 583.1 720.7 586 722.5C588.9 724.3 591.4 729.6 592.5 731" stroke-width="3.7"/>
<path d="M240 850.5C244.2 846 255 833.1 265 823.5C275 813.9 285.8 804.2 300 793.1C314.2 782 333.3 767.2 350 756.9C366.7 746.6 383.3 738.8 400 731.2C416.7 723.7 437.3 716.2 450 711.6C462.7 707 471.7 705.1 476 703.8" stroke-width="2.5" stroke-dasharray="2.5 9"/>
<path d="M242.5 860C246.7 855.9 257.9 844.2 267.5 835.5C277.1 826.8 286.2 818.3 300 807.5C313.8 796.7 333.3 781.4 350 770.6C366.7 759.8 384.4 750.4 400 742.8C415.6 735.3 432.4 729.3 443.8 725.3C455.1 721.3 464 719.8 468 718.8" stroke-width="2.25" stroke-dasharray="3.5 8" stroke-dashoffset="5"/>
<path d="M248 871C252.2 867.2 263.8 856 273 848C282.2 840 289.7 833 303 822.8C316.3 812.5 336.3 797.3 353 786.5C369.7 775.7 388.4 765 403 757.8C417.6 750.5 430.5 746.1 440.5 742.8C450.5 739.4 459.2 738.6 463 737.8" stroke-width="2.25" stroke-dasharray="3.5 9"/>
<path d="M262 871C267.3 867.2 287 853 294 848C301 843 298.2 845.1 304 841.2C309.8 837.4 320.7 830.6 329 825C337.3 819.4 341.5 815 354 807.5C366.5 800 387.3 788.3 404 780C420.7 771.7 441.3 762.9 454 757.5C466.7 752.1 475.7 749.2 480 747.5" stroke-width="2.25" stroke-dasharray="4 12"/>
<circle cx="291" cy="791" r="2" stroke-width="1.3"/>
<circle cx="322" cy="773" r="2" stroke-width="1.3"/>
<circle cx="350" cy="756.5" r="2" stroke-width="1.3"/>
<circle cx="379" cy="741" r="2" stroke-width="1.3"/>
<circle cx="411" cy="726" r="2" stroke-width="1.3"/>
<circle cx="442" cy="714" r="2" stroke-width="1.3"/>
<path d="M265.2 827.8L273.8 820L281.6 811.4L287.8 814.5L289.4 823.1L292.5 825.5L314.4 805.2L317.5 801.2L319 809L316 815.3L303.4 824.7L298.8 827.8L281.6 840.3L276.9 835.6L269.8 834Z" stroke-width="3.25"/>
<path d="M487.2 699.8L494 699.2L495.3 704.5L492.6 714L464.3 722.1L461.6 724.8L463 729L471 730.2L475.1 734.2" stroke-width="3.25"/>
<path d="M487.2 699.8L507.5 695.1L512.9 695.8L512.9 704.5L507.5 705.9L506.8 715.3L511.5 719.4L488.6 724.8L491.3 727.5L512.9 722.1" stroke-width="3.25"/>
<path d="M488 697.5L507 693.5" stroke-width="2.91"/>
<path d="M515.6 695.1C519.7 694.4 532.4 692.2 540 691C547.6 689.8 556.8 688.2 561.5 687.7C566.2 687.2 566 687.3 568.2 688.3C570.5 689.3 573.9 692.8 575 693.7" stroke-width="2.38"/>
<path d="M575 693.7L573.6 696.4L564.2 704.5L561.5 709.9" stroke-width="2.38"/>
<path d="M516 711.5L553 704" stroke-width="2.38"/>
<path d="M519 701L554 695.5" stroke-width="2.0"/>
<path d="M389 789C390.3 787.2 392.8 784.9 398 782C403.2 779.1 413 774.7 420 771.5C427 768.3 435.8 764.3 440 763C444.2 761.7 444.1 762.8 445 763.5C445.9 764.2 448 765.4 445.5 767.5C443 769.6 435.9 773 430 776C424.1 779 415.7 782.8 410 785.5C404.3 788.2 399.3 791.2 396 792.5C392.7 793.8 391.2 793.6 390 793C388.8 792.4 387.7 790.8 389 789Z" stroke-width="2.91"/>
<path d="M397 788L440 767" stroke-width="1.25"/>
<path d="M220 900L233 886L238 886L240 893L236 898L247.5 910L247.5 930L243 929L221 906Z" stroke-width="2.5"/>
<path d="M243 929L243 910" stroke-width="1.62"/>
<path d="M226 895L232 899" stroke-width="1.38"/>
<path d="M212 905C213 903.7 216 899 218 897C220 895 223 893.7 224 893" stroke-width="3.81" stroke-dasharray="2 2"/>
<path d="M199 916L210 904" stroke-width="2.0" stroke-dasharray="3 2"/>
<path d="M204 920L215 908" stroke-width="2.0" stroke-dasharray="3 2"/>
<path d="M158.5 981.3L213.9 950.8L241.6 934.2L280.3 913.9L306.2 897.2" stroke-width="2.25"/>
<path d="M306.2 897.2L343.1 876.9L370.8 860.3L400 845.5L436 828" stroke-width="1.88" stroke-dasharray="30 4 5 4"/>
<path d="M158.5 981.3L195.4 958.2L243 931" stroke-width="1.62"/>
<path d="M158.5 981.3L180.6 945.3L188 934.2L195.4 921.3L205 906" stroke-width="1.88" stroke-dasharray="9 5"/>
<path d="M184.3 995.1L228.6 921.3" stroke-width="1.88" stroke-dasharray="9 5"/>
<path d="M176 967.4L193.6 943.4" stroke-width="1.88" stroke-dasharray="9 5"/>
<path d="M193.6 958.2L217.6 923.1" stroke-width="1.88" stroke-dasharray="9 5"/>
<path d="M217.6 945.3L254.5 888" stroke-width="1.88" stroke-dasharray="12 5"/>
<path d="M247.1 928.6L280.3 878.8" stroke-width="1.88" stroke-dasharray="22 4 4 4"/>
<path d="M276.7 912L311.7 856.6" stroke-width="1.88" stroke-dasharray="22 4 4 4"/>
<path d="M306.2 895.4L335.8 851.1" stroke-width="1.88" stroke-dasharray="22 4 4 4"/>
<path d="M343.1 875.1L385 808" stroke-width="1.88" stroke-dasharray="22 4 4 4"/>
<path d="M390 852.5L432.5 783" stroke-width="1.88" stroke-dasharray="22 4 4 4"/>
<path d="M442.5 822.5L480 760" stroke-width="1.88" stroke-dasharray="22 4 4 4"/>
<path d="M482 800L519 743" stroke-width="1.88" stroke-dasharray="22 4 4 4"/>
<path d="M528 773L552 735" stroke-width="1.88" stroke-dasharray="22 4 4 4"/>
<path d="M436 828L493 799L530 775L545 748" stroke-width="1.62" stroke-dasharray="16 5 3 5"/>
<path d="M247 909.5L304 909.5" stroke-width="1.88"/>
<path d="M307 910L310 917.1L335.1 917.1L337.8 919.5L344.5 919L344.5 901L337.8 900.5L335.1 902.9L310 902.9Z" stroke-width="2.5" fill="#000"/>
<path d="M322.8 913.6L339.2 913.6" stroke="#fff" stroke-width="1.5"/>
<path d="M311.5 910L322.8 910" stroke="#fff" stroke-width="1.5"/>
<path d="M322.8 906.4L340.8 906.4" stroke="#fff" stroke-width="1.5"/>
<path d="M340 913.6L340 906.4" stroke="#fff" stroke-width="1.5"/>
<path d="M352.9 913L355.4 915.1L388.1 915.9L388.3 905.9L355.6 905.1L353.1 907Z" stroke-width="3.36" fill="#fff"/>
<path d="M357.4 912.6L357.6 907.6" stroke-width="2.0"/>
<ellipse cx="391.5" cy="911" rx="5.5" ry="10.5" stroke-width="3.6" fill="#fff" transform="rotate(1.4878675288277787 391.5 911)"/>
<ellipse cx="581.5" cy="721.5" rx="2.6" ry="2.6" stroke-width="1.3"/>
<path d="M580 724L566.7 747" stroke-width="2.0" stroke-dasharray="12 3 3 3"/>
<path d="M563 750L556 749.5L545.4 768.3L542.5 769.2L540 774.5L554 782.5L557.3 777.5L556.6 774.5L567.1 755.7Z" stroke-width="2.5" fill="#000"/>
<path d="M553.1 760.2L546.1 772.7" stroke="#fff" stroke-width="1.5"/>
<path d="M561.1 753.4L556.3 762" stroke="#fff" stroke-width="1.5"/>
<path d="M559.4 763.7L551.7 777.4" stroke="#fff" stroke-width="1.5"/>
<path d="M545.8 773.3L552.1 776.8" stroke="#fff" stroke-width="1.5"/>
<path d="M540.8 782.1L537.9 783.5L522 814.8L530.9 819.3L546.8 788L546.2 784.9Z" stroke-width="3.36" fill="#fff"/>
<path d="M539.2 786.4L543.7 788.6" stroke-width="2.0"/>
<ellipse cx="525.2" cy="819.5" rx="4.6" ry="9.5" stroke-width="3.6" fill="#fff" transform="rotate(116.94574842850469 525.2 819.5)"/>
<path d="M451 886.3L432.3 859.1Q430.5 853.5 438 848.8L476.9 828.7Q483.5 825.5 488.5 830.7L505.3 848.8" stroke-width="3.36"/>
<path d="M466.9 897.6L521.9 868.9A11.2 11.2 0 0 0 511.5 849L456.5 877.7A11.2 11.2 0 0 0 466.9 897.6Z" stroke-width="4.93" fill="#fff"/>
<path d="M467.5 894L518.9 867.1A7.2 7.2 0 0 0 512.3 854.4L460.9 881.3A7.2 7.2 0 0 0 467.5 894Z" stroke-width="2.46" fill="#fff"/>
<path d="M476.5 893L515.5 872.6" stroke-width="9.52" stroke="#fff" stroke-linecap="butt"/>
<path d="M476.9 887.5L488.5 882.4" stroke-width="2.5"/>
<path d="M496.3 878.5L509.2 874" stroke-width="2.5"/>
<path d="M478.2 891.4L509.2 877.2" stroke-width="2.91"/>
<path d="M509.2 872L527.3 890.8" stroke-width="1.75"/>
<path d="M527.3 890.8L491.7 909.5" stroke-width="1.75" stroke-dasharray="12 5 3 5"/>
<path d="M473 888.8L491.7 909.5" stroke-width="1.75"/>
<path d="M473.6 890.1L509.2 930.2" stroke-width="1.88"/>
<path d="M513.2 936L514.2 937.2" stroke-width="2.5"/>
<path d="M519.5 942L529.9 955.4" stroke-width="1.88"/>
</svg>
<span class="t b" style="left:69.8px;top:22.4px;font-size:24.5px;transform:scaleX(0.9771)">Post-installation Operation</span>
<span class="t" style="left:102.0px;top:50.8px;font-size:24.5px;transform:scaleX(0.9773)">Convertible Top Fit Adjustment</span>
<span class="t b" style="left:212.9px;top:1099.0px;font-size:25.5px;transform:scaleX(1.0437)">REMOVAL STEPS</span>
<span class="t" style="left:257.6px;top:1131.0px;font-size:25.5px;transform:scaleX(1.0456)">CONVERTIBLE TOP ASSEMBLY</span>
<span class="t" style="left:256.5px;top:1192.5px;font-size:25.5px;transform:scaleX(1.0490)">HEADLINER</span>
<span class="t" style="left:212.4px;top:1228.1px;font-size:25.5px;transform:scaleX(1.0450)">1.</span>
<span class="t" style="left:256.9px;top:1228.1px;font-size:25.5px;transform:scaleX(1.0541)">TOP STACK PULL HANDLE BOX</span>
<span class="t" style="left:255.9px;top:1259.0px;font-size:25.5px;transform:scaleX(1.0641)">BEZEL</span>
<span class="t" style="left:213.5px;top:1292.5px;font-size:25.5px;transform:scaleX(1.0450)">2.</span>
<span class="t" style="left:255.9px;top:1292.5px;font-size:25.5px;transform:scaleX(1.0526)">NO.1 BOW GARNISH</span>
<span class="t b" style="left:18.0px;top:1322.0px;font-size:25.5px;transform:scaleX(1.0132)">&lt;&lt;A&gt;&gt;</span>
<span class="t b" style="left:115.0px;top:1322.0px;font-size:25.5px;transform:scaleX(0.9947)">&gt;&gt;B&lt;&lt;</span>
<span class="t" style="left:213.5px;top:1323.0px;font-size:25.5px;transform:scaleX(1.0450)">3.</span>
<span class="t" style="left:256.0px;top:1323.0px;font-size:25.5px;transform:scaleX(0.9863)">RIVET</span>
<span class="t" style="left:213.5px;top:1354.0px;font-size:25.5px;transform:scaleX(1.0450)">4.</span>
<span class="t" style="left:256.9px;top:1354.0px;font-size:25.5px;transform:scaleX(1.0504)">TOP STACK REAR RAIL AND SIDE</span>
<span class="t" style="left:257.0px;top:1385.1px;font-size:25.5px;transform:scaleX(1.0450)">CABLE ASSEMBLY CONNECTION</span>
<span class="t b" style="left:930.5px;top:1094.0px;font-size:25.5px;transform:scaleX(1.0460)">REMOVAL STEPS (Continued)</span>
<span class="t" style="left:931.6px;top:1126.0px;font-size:25.5px;transform:scaleX(1.0450)">5.</span>
<span class="t" style="left:976.2px;top:1126.0px;font-size:25.5px;transform:scaleX(1.0405)">TOP COVER FROM NO.1 BOW</span>
<span class="t" style="left:931.6px;top:1157.3px;font-size:25.5px;transform:scaleX(1.0450)">6.</span>
<span class="t" style="left:975.1px;top:1157.3px;font-size:25.5px;transform:scaleX(1.0450)">NO.2 BOW LISTING STRAP</span>
<span class="t" style="left:931.6px;top:1188.5px;font-size:25.5px;transform:scaleX(1.0450)">7.</span>
<span class="t" style="left:975.1px;top:1188.5px;font-size:25.5px;transform:scaleX(1.0450)">NO.3 BOW LISTING STRAP</span>
<span class="t" style="left:931.6px;top:1219.5px;font-size:25.5px;transform:scaleX(1.0450)">8.</span>
<span class="t" style="left:975.1px;top:1219.5px;font-size:25.5px;transform:scaleX(1.0450)">NO.4 BOW LISTING STRAP</span>
<span class="t" style="left:931.6px;top:1250.5px;font-size:25.5px;transform:scaleX(1.0450)">9.</span>
<span class="t" style="left:975.1px;top:1250.5px;font-size:25.5px;transform:scaleX(1.0450)">REAR RAIL SAIL PANEL FLAP</span>
<span class="t" style="left:930.5px;top:1281.5px;font-size:25.5px;transform:scaleX(1.0450)">10.</span>
<span class="t" style="left:976.2px;top:1281.5px;font-size:25.5px;transform:scaleX(1.0405)">TOP COVER FROM NO.5 BOW</span>
<span class="t b" style="left:834.0px;top:1312.5px;font-size:25.5px;transform:scaleX(0.9816)">&gt;&gt;A&lt;&lt;</span>
<span class="t" style="left:930.5px;top:1313.0px;font-size:25.5px;transform:scaleX(1.0450)">11.</span>
<span class="t" style="left:976.2px;top:1313.0px;font-size:25.5px;transform:scaleX(1.0450)">SIDE CABLE ASSEMBLY</span>
<span class="t" style="left:930.5px;top:1344.0px;font-size:25.5px;transform:scaleX(1.0450)">12.</span>
<span class="t" style="left:976.2px;top:1344.0px;font-size:25.5px;transform:scaleX(1.0450)">TOP COVER ASSEMBLY</span>
<span class="t b" style="left:1172.0px;top:1034.5px;font-size:19.5px;-webkit-text-stroke:0.7px #000;transform:scaleX(0.9226)">AC004142 AB</span>
<span class="t b" style="left:890.8px;top:143.9px;font-size:31px;transform:scaleX(1.0467)">3</span>
<span class="t b" style="left:554.8px;top:256.5px;font-size:31px;transform:scaleX(1.1467)">5</span>
<span class="t b" style="left:922.5px;top:308.2px;font-size:31px;transform:scaleX(0.9533)">11</span>
<span class="t b" style="left:953.9px;top:375.5px;font-size:31px;transform:scaleX(1.0833)">6</span>
<span class="t b" style="left:1045.4px;top:402.2px;font-size:31px;transform:scaleX(1.0323)">12</span>
<span class="t b" style="left:1036.9px;top:454.4px;font-size:31px;transform:scaleX(1.1333)">7</span>
<span class="t b" style="left:1115.0px;top:472.7px;font-size:31px;transform:scaleX(0.9412)">4</span>
<span class="t b" style="left:1122.0px;top:536.7px;font-size:31px;transform:scaleX(1.0500)">8</span>
<span class="t b" style="left:1166.4px;top:559.4px;font-size:31px;transform:scaleX(1.1333)">9</span>
<span class="t b" style="left:1123.9px;top:935.0px;font-size:31px;transform:scaleX(1.0710)">10</span>
<span class="t b" style="left:236.5px;top:639.2px;font-size:31px;transform:scaleX(1.0000)">2</span>
<span class="t b" style="left:390.9px;top:993.2px;font-size:31px;transform:scaleX(0.8036)">1</span>
<span class="t b" style="left:915.2px;top:148.4px;font-size:24px;color:#fff;-webkit-text-stroke:0.1px #fff;transform:scaleX(1.04)">N</span>
<span class="t b" style="left:1166.3px;top:937.0px;font-size:24px;color:#fff;-webkit-text-stroke:0.1px #fff;transform:scaleX(1.03)">N</span>
</body></html>
